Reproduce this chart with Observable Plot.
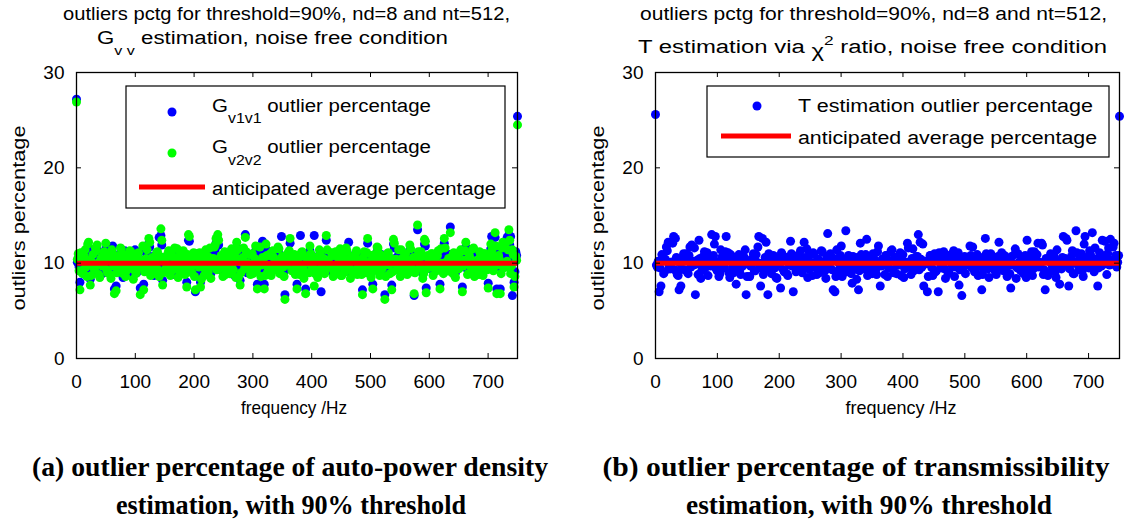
<!DOCTYPE html>
<html><head><meta charset="utf-8">
<script src="https://cdn.jsdelivr.net/npm/d3@7"></script>
<script src="https://cdn.jsdelivr.net/npm/@observablehq/plot@0.6"></script>
<style>
html,body{margin:0;padding:0;background:#fff;}
#wrap{position:relative;width:1133px;height:523px;overflow:hidden;background:#fff;}
#wrap svg{position:absolute;left:0;top:0;}
#wrap text{white-space:pre;}
</style></head><body><div id="wrap"></div>
<script>
// ---- data: outlier percentage per frequency bin (513 bins, 0 .. 750 Hz) ----
// each series is stored as its even-numbered bins and its odd-numbered bins
const nBins = 513;
const fMax = 750;
const anticipated = 10;
const xTicks = [0, 100, 200, 300, 400, 500, 600, 700];
const yTicks = [0, 10, 20, 30];

const gv1v1Even = [
27.2,10.5,8.0,9.9,10.8,11.0,9.2,11.6,8.3,10.6,9.0,11.2,11.4,9.4,10.0,8.9,
10.7,11.5,9.6,10.2,9.0,11.8,7.3,7.6,9.8,10.3,10.9,8.5,11.3,9.7,10.0,10.8,
9.3,8.8,11.4,9.0,10.6,7.4,9.7,7.8,10.4,11.0,12.1,9.2,10.1,8.7,10.5,10.7,
12.7,12.9,8.2,9.9,10.1,10.5,9.4,11.2,8.8,11.1,10.6,9.0,10.3,10.2,10.8,9.3,
8.0,12.4,9.8,9.5,10.6,7.0,11.0,9.1,8.0,10.4,9.2,10.9,9.7,11.1,8.9,9.5,
11.2,12.1,12.5,9.9,10.3,9.1,10.7,10.4,9.9,9.4,11.0,8.8,11.2,11.7,9.0,8.2,
10.6,11.1,13.0,9.0,10.4,9.3,10.5,10.2,11.3,7.8,10.7,9.1,12.3,7.8,11.5,9.6,
10.3,9.2,10.8,9.9,10.5,11.2,9.4,12.8,9.1,6.7,10.4,10.6,12.1,9.7,9.9,9.3,
7.8,10.2,12.9,10.7,8.9,7.3,10.6,9.5,10.5,10.3,12.9,10.1,9.0,10.9,7.0,10.7,
9.4,12.4,10.8,9.2,10.6,9.1,10.3,9.9,10.5,11.0,9.2,10.0,9.6,10.8,12.2,8.9,
10.1,9.7,10.5,9.3,10.8,9.1,7.2,10.7,9.5,12.1,10.6,9.0,7.8,10.4,9.9,11.1,
9.2,10.9,9.3,6.7,10.2,10.6,9.4,7.7,12.0,10.5,9.8,10.9,9.1,11.0,9.2,10.5,
9.3,10.7,11.0,9.6,6.6,10.1,13.5,10.0,10.7,8.9,12.0,7.4,10.3,10.1,10.5,9.2,
10.9,9.7,10.8,7.8,10.5,9.4,11.1,10.2,10.0,13.8,9.5,10.6,9.0,10.2,9.9,10.9,
7.5,10.8,11.7,9.3,10.4,10.1,11.0,9.1,10.6,9.8,10.7,10.1,9.2,10.5,10.4,7.9,
11.0,12.8,9.7,12.7,7.3,10.3,7.3,11.1,10.0,11.6,12.7,13.0,12.8,6.6,8.0,11.2,
25.4];
const gv1v1Odd = [
10.1,9.6,10.8,9.3,10.4,10.0,11.5,9.8,9.2,10.6,9.9,10.9,10.3,9.0,10.2,10.1,
10.6,9.7,10.1,9.4,10.9,10.2,9.8,9.5,10.4,11.1,9.9,10.5,9.1,10.3,10.2,10.7,
9.8,10.2,9.4,10.5,10.1,9.9,11.3,9.6,10.0,10.1,11.7,9.3,10.7,10.4,10.6,9.8,
10.3,11.9,9.5,10.6,10.0,10.8,9.2,10.3,10.2,9.9,11.0,9.7,10.5,9.4,10.1,9.9,
10.4,12.3,10.0,9.8,9.1,10.2,10.4,10.6,8.8,10.7,9.9,10.3,9.6,11.1,10.2,10.0,
11.4,9.8,11.9,10.6,10.1,10.3,9.3,10.9,9.7,10.5,10.4,9.8,9.0,10.9,10.7,9.5,
10.1,9.9,10.7,10.5,10.2,10.4,9.4,11.0,9.8,10.6,11.2,10.3,9.9,9.2,10.3,10.0,
10.5,9.6,10.1,10.4,9.7,11.0,9.9,10.2,9.1,10.5,10.3,10.8,9.9,9.7,10.4,10.1,
9.8,9.3,10.6,10.0,10.2,9.5,10.9,11.3,10.2,9.7,9.4,10.1,9.8,10.5,10.4,10.0,
9.7,10.9,10.5,10.1,10.3,9.6,10.7,10.3,9.8,9.2,10.4,9.9,11.1,10.6,10.0,10.2,
9.5,10.9,10.8,10.2,9.6,9.3,10.1,9.8,10.6,10.5,10.1,10.3,9.7,9.8,11.2,10.0,
10.4,9.9,9.7,9.1,10.5,10.3,10.0,9.6,11.6,9.9,10.2,10.5,10.9,9.8,10.3,10.1,
9.6,11.4,10.0,10.1,9.5,9.8,10.7,10.3,10.2,9.4,11.8,9.9,10.7,10.2,10.5,10.0,
9.8,10.3,10.4,11.0,10.1,12.1,9.6,9.7,10.9,10.3,10.4,9.2,10.1,10.0,10.6,10.5,
10.2,10.8,9.7,9.4,10.0,9.9,11.1,10.4,9.8,9.3,10.2,10.1,10.5,9.6,9.8,10.3,
11.5,10.0,10.1,11.3,10.3,9.9,9.4,11.7,10.5,10.1,10.9,11.9,10.2,10.4,9.1,10.8];

const gv2v2Even = [
26.9,11.0,7.2,10.6,9.3,11.4,8.6,12.2,7.7,10.1,9.5,11.6,11.9,8.8,10.4,9.7,
11.2,12.1,9.0,10.7,8.4,11.0,6.8,7.1,10.3,9.6,11.5,8.9,10.8,9.2,10.5,11.3,
9.8,8.3,10.9,9.4,11.1,6.7,10.2,7.2,9.9,11.4,12.6,8.7,10.6,9.1,10.0,11.2,
8.6,13.6,7.7,10.4,9.5,11.0,8.9,10.7,9.3,11.6,10.1,8.5,10.8,9.7,11.3,8.8,
7.5,13.0,10.3,9.0,11.1,7.2,10.5,9.6,7.5,10.9,8.7,11.4,9.2,10.6,8.4,10.0,
11.7,12.6,13.0,9.4,10.8,8.6,11.2,9.9,10.4,8.9,11.5,9.3,10.7,12.2,8.5,7.7,
10.1,11.6,12.7,9.5,10.9,8.8,11.0,9.7,11.8,7.3,10.2,8.6,10.6,7.3,12.0,9.1,
10.8,8.7,11.3,9.4,10.0,11.7,8.9,10.5,9.6,6.2,10.9,11.1,12.6,9.2,10.4,8.8,
7.3,10.7,9.5,11.2,8.4,6.8,10.1,9.0,11.0,9.8,7.6,10.6,8.5,11.4,9.3,10.2,
8.9,12.9,10.3,9.7,11.1,8.6,10.8,9.4,10.0,11.5,8.7,10.5,9.1,11.3,9.9,8.4,
10.6,9.2,11.0,8.8,10.3,9.6,6.7,11.2,9.0,12.6,10.1,8.5,7.3,10.9,9.4,11.6,
8.7,10.4,9.8,6.2,10.7,11.1,8.9,7.2,12.5,10.0,9.3,11.4,8.6,10.5,9.7,11.0,
8.8,10.2,11.5,9.1,6.8,10.6,14.0,9.5,11.2,8.4,12.5,6.9,10.8,9.6,11.0,8.7,
10.4,9.2,11.3,7.3,10.0,8.9,11.6,9.7,10.5,13.2,9.0,11.1,8.5,10.7,9.4,11.4,
7.0,10.3,12.2,8.8,10.9,9.6,11.5,8.6,10.1,9.3,11.2,10.6,8.7,11.0,9.9,7.4,
10.5,11.3,9.2,13.2,6.8,10.8,6.8,11.6,9.5,12.1,10.2,13.5,8.9,11.4,7.5,10.7,
24.5];
const gv2v2Odd = [
10.4,9.2,11.1,8.9,10.7,9.6,12.0,10.3,8.7,10.9,9.4,11.3,10.0,8.5,10.6,9.8,
11.0,9.3,10.5,8.8,11.4,9.7,10.2,9.0,10.8,11.6,9.5,10.1,8.6,10.9,9.9,11.2,
9.4,10.6,8.9,11.0,9.7,10.3,11.8,9.1,10.5,9.6,12.2,8.8,10.4,9.9,11.1,9.3,
10.7,12.4,9.0,10.2,9.5,11.3,8.7,10.8,9.8,10.4,11.5,9.2,10.0,8.9,10.6,9.4,
10.9,12.8,9.6,10.3,8.6,10.7,9.9,11.1,8.3,10.2,9.4,10.8,9.1,11.6,9.7,10.5,
11.9,9.3,12.4,10.1,9.6,10.8,8.8,10.4,9.2,11.0,9.9,10.3,8.5,11.4,10.2,9.0,
10.6,9.4,11.2,10.0,9.7,10.9,8.9,10.5,9.3,10.1,11.7,9.8,10.4,8.7,10.8,9.5,
11.0,9.1,10.6,9.9,10.2,11.5,9.4,10.7,8.6,10.0,9.8,11.3,10.4,9.2,10.9,9.6,
10.3,8.8,11.1,9.5,10.7,9.0,10.4,11.8,9.7,10.2,8.9,10.6,9.3,11.0,9.9,10.5,
9.2,11.4,10.0,9.6,10.8,9.1,11.2,9.8,10.3,8.7,10.9,9.4,11.6,10.1,9.5,10.7,
9.0,10.4,11.3,9.7,10.1,8.8,10.6,9.3,11.1,10.0,9.6,10.8,9.2,10.3,11.7,9.5,
10.9,9.4,10.2,8.6,11.0,9.8,10.5,9.1,12.1,10.4,9.7,10.0,11.4,9.3,10.8,9.6,
10.1,11.9,9.5,10.6,9.0,10.3,11.2,9.8,10.7,8.9,12.3,9.4,10.2,9.7,11.0,10.5,
9.3,10.8,9.9,11.5,9.6,12.6,10.1,9.2,10.4,9.8,10.9,8.7,10.6,9.5,11.1,10.0,
9.7,11.3,10.2,8.9,10.5,9.4,11.6,9.9,10.3,8.8,10.7,9.6,11.0,10.1,9.3,10.8,
12.0,9.5,10.6,11.8,9.8,10.4,8.9,12.2,10.0,9.6,11.4,12.4,9.7,10.9,8.6,10.3];

const tEstEven = [
25.6,9.6,7.0,7.6,10.4,9.1,11.7,12.2,9.4,10.1,12.8,12.6,8.8,7.2,7.6,10.6,
9.3,11.0,8.9,11.7,11.9,9.8,6.7,10.3,12.4,8.4,9.7,11.2,10.5,8.7,9.9,13.0,
10.8,12.8,9.2,8.6,11.4,10.0,9.5,12.8,11.1,8.5,10.7,9.0,10.2,9.6,10.9,8.8,
9.7,10.6,6.7,9.9,8.6,10.4,11.0,9.2,10.1,12.8,7.6,12.6,9.4,12.2,6.7,10.3,
8.9,10.8,9.5,8.4,10.0,7.4,10.9,9.1,10.6,8.7,9.8,11.0,7.0,10.2,9.3,10.7,
11.3,9.0,12.2,10.5,8.5,10.9,9.6,11.1,10.0,8.8,10.4,9.7,11.2,10.1,8.4,13.1,
9.9,10.6,7.2,7.0,11.4,9.2,10.8,8.6,10.3,13.4,9.5,10.0,8.9,10.7,9.8,8.3,
7.2,12.1,10.2,9.4,10.9,8.7,10.5,9.1,11.0,9.6,8.8,11.8,7.6,10.4,9.9,10.8,
8.6,10.1,11.3,9.3,10.6,8.9,9.8,11.1,10.3,8.5,9.7,12.1,10.0,8.8,11.5,9.4,
10.7,13.0,12.2,9.6,7.6,10.2,7.0,9.9,10.8,8.7,11.0,9.2,7.0,10.5,9.5,11.2,
8.4,10.3,9.0,10.9,9.7,8.6,10.6,11.1,9.3,6.6,10.0,8.9,10.4,9.8,10.8,11.7,
9.1,10.2,8.7,10.6,7.2,9.4,12.6,10.9,8.5,11.0,9.6,10.3,8.8,10.7,9.9,11.1,
9.2,10.5,8.6,10.0,7.4,9.8,10.9,8.4,11.0,9.5,10.2,8.9,10.8,12.4,9.3,10.6,
8.7,11.2,9.7,12.1,10.1,12.1,8.8,7.2,10.4,9.0,11.0,9.6,10.7,8.5,10.0,7.8,
9.4,12.8,10.5,12.4,7.6,9.9,11.3,8.9,13.4,10.2,9.3,11.0,8.6,12.8,10.6,9.5,
10.9,13.2,9.1,10.4,7.6,11.1,9.7,10.3,12.3,8.8,11.6,12.5,9.9,12.1,10.8,10.1,
25.4];
const tEstOdd = [
9.8,10.2,9.5,10.9,8.9,10.4,11.3,9.7,10.1,12.1,9.3,10.6,8.7,10.0,9.4,11.0,
10.3,9.1,10.8,9.6,10.2,11.6,9.9,8.8,10.5,9.2,10.7,9.5,11.1,10.0,9.7,10.4,
12.0,9.4,10.1,8.9,10.6,9.8,11.2,10.3,9.0,10.9,9.6,10.2,7.8,10.5,9.3,10.8,
9.9,11.4,8.6,10.1,9.7,10.4,9.2,10.9,11.7,9.5,10.0,8.8,10.6,9.4,11.0,10.2,
9.6,10.7,8.5,10.3,9.9,11.1,9.3,10.5,8.9,10.0,12.3,9.7,10.4,9.1,10.8,9.5,
10.2,9.8,10.6,11.5,9.4,10.1,8.7,10.9,9.6,10.3,9.0,11.3,10.0,9.2,10.7,9.8,
11.0,9.3,10.5,8.6,10.2,9.9,11.8,9.5,10.4,9.1,10.8,9.7,7.9,10.1,9.4,10.6,
9.2,10.9,9.8,10.3,12.5,9.6,10.0,8.9,10.5,9.3,11.2,10.1,9.7,10.4,8.8,10.8,
9.5,10.2,11.4,9.0,10.6,9.8,10.3,8.7,10.9,9.4,10.1,11.6,9.6,10.5,9.2,10.0,
10.7,9.3,10.4,12.0,9.9,10.2,8.6,10.8,9.5,10.3,9.1,10.6,11.1,9.7,10.0,9.4,
10.5,8.9,10.2,9.8,11.3,9.6,10.4,7.7,10.1,9.3,10.7,9.9,10.3,11.8,9.5,10.6,
9.2,10.9,9.7,10.0,8.8,10.5,11.0,9.4,10.2,9.8,10.6,9.1,10.4,12.2,9.6,10.1,
10.8,9.3,10.3,8.9,10.7,9.9,11.5,9.5,10.1,9.2,10.6,9.7,8.5,10.4,9.8,11.2,
9.4,10.2,10.9,9.6,10.0,11.9,9.3,10.5,8.7,10.3,9.9,10.8,9.1,11.4,10.1,9.5,
10.6,9.8,12.6,10.2,9.4,10.7,8.9,10.0,11.1,9.6,10.4,9.2,12.0,9.8,10.5,11.3,
10.1,9.7,11.6,10.4,9.5,10.9,12.4,9.9,10.6,11.0,9.8,10.3,11.7,10.2,9.6,10.8];

// interleave the even/odd bins back into bin order
function bins(even, odd) {
  const out = [];
  even.forEach((v, i) => { out.push(v); if (i < odd.length) out.push(odd[i]); });
  return out;
}
const gv1v1 = bins(gv1v1Even, gv1v1Odd);
const gv2v2 = bins(gv2v2Even, gv2v2Odd);
const tEst = bins(tEstEven, tEstOdd);
const freqs = d3.range(nBins).map(i => i * fMax / (nBins - 1));

// ---- drawing ----
const FONT = '"Liberation Sans", Arial, Helvetica, sans-serif';
const SERIF = '"Liberation Serif", "Times New Roman", serif';
const W = 1133, H = 430;
const R = 4.5;
const wrap = document.getElementById("wrap");

function addText(g, o) {
  const t = g.append("text")
    .attr("x", o.x).attr("y", o.y)
    .attr("font-family", o.family || FONT)
    .attr("font-size", o.size || 18)
    .attr("fill", "black")
    .attr("text-anchor", o.anchor || "start");
  if (o.weight) t.attr("font-weight", o.weight);
  if (o.rotate) t.attr("transform", `rotate(${o.rotate},${o.x},${o.y})`);
  let shift = 0;
  for (const p of o.parts) {
    const q = typeof p === "string" ? {t: p} : p;
    const sp = t.append("tspan").text(q.t);
    const target = q.dy || 0;
    if (target !== shift) { sp.attr("dy", target - shift); shift = target; }
    if (q.size) sp.attr("font-size", q.size);
  }
  if (o.length) t.attr("textLength", o.length).attr("lengthAdjust", "spacingAndGlyphs");
  return t;
}

function panel(p) {
  const ph = p.bottom - p.top, pw = p.right - p.left;
  const marks = p.series.map(s =>
    Plot.dot(s.values.map((v, i) => ({f: freqs[i], v})), {x: "f", y: "v", r: R, fill: s.color, stroke: "none"}));
  marks.push(
    Plot.ruleY([anticipated], {stroke: "#ff0000", strokeWidth: 5}),
    Plot.tickX(xTicks, {x: d => d, insetTop: ph - 5, stroke: "black"}),
    Plot.tickX(xTicks, {x: d => d, insetBottom: ph - 5, stroke: "black"}),
    Plot.tickY(yTicks, {y: d => d, insetRight: pw - 5, stroke: "black"}),
    Plot.tickY(yTicks, {y: d => d, insetLeft: pw - 5, stroke: "black"}),
    Plot.axisX({ticks: xTicks, tickSize: 0, tickPadding: 16, label: null, fontSize: 19}),
    Plot.axisY({ticks: yTicks, tickSize: 0, tickPadding: 12, label: null, fontSize: 19}),
    Plot.frame({stroke: "black", strokeWidth: 1.3})
  );
  const svg = Plot.plot({
    width: W, height: H,
    marginLeft: p.left, marginRight: W - p.right, marginTop: p.top, marginBottom: H - p.bottom,
    x: {domain: [0, fMax], label: null},
    y: {domain: [0, 30], label: null},
    style: {fontFamily: FONT, fontSize: "19px", color: "black", background: "transparent", overflow: "visible"},
    marks
  });
  wrap.appendChild(svg);
  const g = d3.select(svg).append("g");

  p.titles.forEach(t => addText(g, t));
  addText(g, {x: p.ylabX, y: (p.top + p.bottom) / 2 + 3, size: 19, parts: ["outliers percentage"], anchor: "middle", rotate: -90, length: 185});
  addText(g, {x: p.xlabX, y: 414, size: 19, parts: ["frequency /Hz"], anchor: "middle", length: p.xlabLen});

  const L = p.legend;
  g.append("rect").attr("x", L.x0).attr("y", L.y0).attr("width", L.x1 - L.x0).attr("height", L.y1 - L.y0)
    .attr("fill", "white").attr("stroke", "black").attr("stroke-width", 1.2);
  L.rows.forEach(r => {
    if (r.kind === "dot") {
      g.append("circle").attr("cx", L.dotX).attr("cy", r.y).attr("r", R).attr("fill", r.color);
    } else {
      g.append("line").attr("x1", L.lineX1).attr("x2", L.lineX2).attr("y1", r.y).attr("y2", r.y)
        .attr("stroke", r.color).attr("stroke-width", 5);
    }
    addText(g, {x: L.textX, y: r.y + r.base, parts: r.parts, length: r.len});
  });
}

panel({
  left: 76, right: 517, top: 72, bottom: 358,
  series: [{values: gv1v1, color: "#0000ff"}, {values: gv2v2, color: "#00ff00"}],
  titles: [
    {x: 63, y: 20, size: 18, parts: ["outliers pctg for threshold=90%, nd=8 and nt=512,"], length: 447},
    {x: 97, y: 44, size: 18, parts: ["G", {t: "v v", dy: 11, size: 13}, {t: " estimation, noise free condition", dy: 0}], length: 351}
  ],
  ylabX: 25, xlabX: 294, xlabLen: 106,
  legend: {
    x0: 126, x1: 505, y0: 86, y1: 208, dotX: 172, lineX1: 139, lineX2: 205, textX: 212,
    rows: [
      {kind: "dot", color: "#0000ff", y: 112, base: 0, len: 219, parts: ["G", {t: "v1v1", dy: 11, size: 14}, {t: " outlier percentage", dy: 0}]},
      {kind: "dot", color: "#00ff00", y: 153, base: 0, len: 219, parts: ["G", {t: "v2v2", dy: 12, size: 14}, {t: " outlier percentage", dy: 0}]},
      {kind: "line", color: "#ff0000", y: 187, base: 8, len: 284, parts: ["anticipated average percentage"]}
    ]
  }
});

panel({
  left: 655, right: 1119, top: 72, bottom: 358,
  series: [{values: tEst, color: "#0000ff"}],
  titles: [
    {x: 640, y: 20, size: 18, parts: ["outliers pctg for threshold=90%, nd=8 and nt=512,"], length: 467},
    {x: 638, y: 53, size: 18, parts: ["T estimation via ", {t: "χ", dy: 4}, {t: "2", dy: -8, size: 13}, {t: " ratio, noise free condition", dy: 0}], length: 469}
  ],
  ylabX: 604, xlabX: 901, xlabLen: 111,
  legend: {
    x0: 707, x1: 1109, y0: 86, y1: 157, dotX: 757, lineX1: 721, lineX2: 791, textX: 798,
    rows: [
      {kind: "dot", color: "#0000ff", y: 106, base: 6, len: 295, parts: ["T estimation outlier percentage"]},
      {kind: "line", color: "#ff0000", y: 136, base: 8, len: 299, parts: ["anticipated average percentage"]}
    ]
  }
});

// captions
const cap = d3.create("svg").attr("width", 1133).attr("height", 523);
const cg = cap.append("g");
addText(cg, {x: 290, y: 476, family: SERIF, weight: "bold", size: 27, anchor: "middle", length: 516, parts: ["(a) outlier percentage of auto-power density"]});
addText(cg, {x: 291, y: 514, family: SERIF, weight: "bold", size: 27, anchor: "middle", length: 350, parts: ["estimation, with 90% threshold"]});
addText(cg, {x: 856, y: 476, family: SERIF, weight: "bold", size: 27, anchor: "middle", length: 507, parts: ["(b) outlier percentage of transmissibility"]});
addText(cg, {x: 869, y: 514, family: SERIF, weight: "bold", size: 27, anchor: "middle", length: 366, parts: ["estimation, with 90% threshold"]});
wrap.appendChild(cap.node());
</script></body></html>
